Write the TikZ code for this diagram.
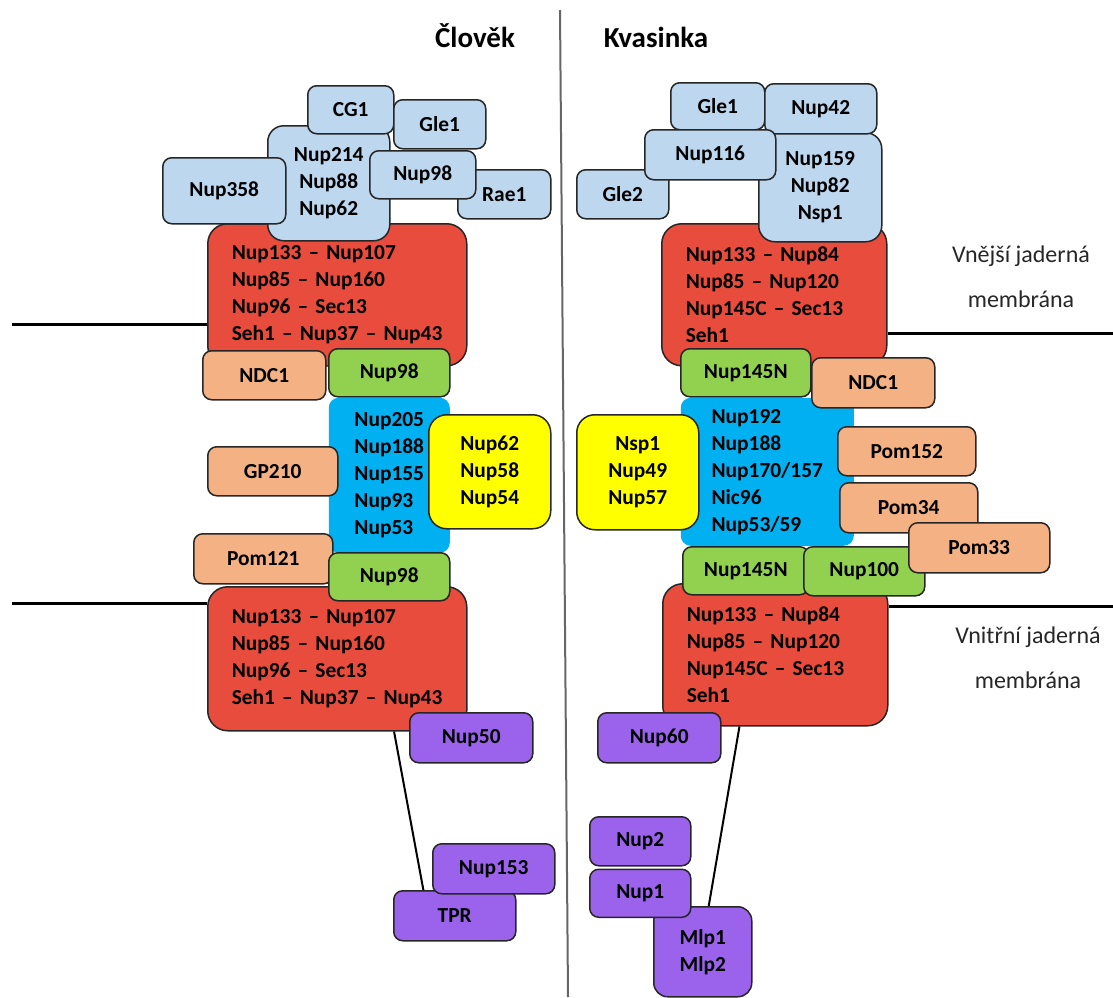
\documentclass[tikz,border=0pt]{standalone}
\usepackage{fontspec}
\setmainfont{Carlito}
\usepackage{tikz}
\usetikzlibrary{positioning, calc}

\definecolor{cytoblue}{HTML}{BDD7EE}
\definecolor{ringred}{HTML}{E74C3C}
\definecolor{linkgreen}{HTML}{92D050}
\definecolor{pomorange}{HTML}{F4B183}
\definecolor{chanblue}{HTML}{00B0F0}
\definecolor{fgyellow}{HTML}{FFFF00}
\definecolor{basketpurple}{HTML}{9B63EB}
\newcommand{\nupfont}{\bfseries\fontsize{10.7}{13.5}\selectfont}

\begin{document}
\begin{tikzpicture}[
        x=0.5pt, y=-0.5pt,
        nup/.style={rectangle, rounded corners=4.5pt, draw=black!85, line width=0.75pt, inner sep=0pt, align=center, anchor=north west, font=\nupfont},
        cyto/.style={nup, fill=cytoblue},
        ring/.style={nup, fill=ringred, rounded corners=10pt, align=left, inner xsep=12pt},
        link/.style={nup, fill=linkgreen},
        pom/.style={nup, fill=pomorange},
        chan/.style={nup, draw=none, fill=chanblue, align=left, rounded corners=5pt},
        fg/.style={nup, fill=fgyellow, rounded corners=9pt},
        basket/.style={nup, fill=basketpurple},
        headline/.style={font=\bfseries\fontsize{14.5}{17}\selectfont, anchor=base},
        memlabel/.style={font=\fontsize{12}{22.5}\selectfont, align=center, anchor=north, text=black!85},
        membrane/.style={line width=1.5pt},
        tether/.style={line width=1pt},
        divider/.style={line width=1pt, draw=black!60}
    ]
        \useasboundingbox (0,0) rectangle (1113,997);

        \coordinate (divTop) at (560,10);
        \coordinate (divBot) at (568,997);
        \draw[divider] (divTop) -- (divBot);

        \node[headline] (hTitle) at (475,47) {Člověk};
        \node[headline] (yTitle) at (656,47) {Kvasinka};

        \coordinate (hMemA) at (12,324);
        \coordinate (hMemB) at (12,603);
        \coordinate (yMemA) at (1113,333);
        \coordinate (yMemB) at (1113,606);

        \node[ring, text width=105.5pt, minimum height=71pt] (hRingA) at (207,223) {Nup133 -- Nup107\\Nup85 -- Nup160\\Nup96 -- Sec13\\Seh1 -- Nup37 -- Nup43};
        \node[cyto, minimum width=61pt, minimum height=57.5pt, rounded corners=8pt] (hNup214) at (267,125) {Nup214\\Nup88\\Nup62};
        \node[cyto, minimum width=43pt, minimum height=24pt] (hCg1) at (307,85) {CG1};
        \node[cyto, minimum width=46pt, minimum height=24.5pt] (hGle1) at (393,99) {Gle1};
        \node[cyto, minimum width=61.5pt, minimum height=33pt] (hNup358) at (162,157) {Nup358};
        \node[cyto, minimum width=46.5pt, minimum height=24.5pt] (hRae1) at (457,169) {Rae1};
        \node[cyto, minimum width=53pt, minimum height=24pt] (hNup98) at (369,150) {Nup98};

        \node[chan, minimum width=60.5pt, minimum height=77.5pt] (hChan) at (328,397) {Nup205\\Nup188\\Nup155\\Nup93\\Nup53};
        \node[link, minimum width=60.5pt, minimum height=24pt] (hLinkA) at (328,348) {Nup98};
        \node[pom, minimum width=61.5pt, minimum height=24.5pt] (hNdc1) at (202,350) {NDC1};
        \node[fg, minimum width=61pt, minimum height=57pt] (hFg) at (428,414) {Nup62\\Nup58\\Nup54};
        \node[pom, minimum width=65pt, minimum height=24.5pt] (hGp210) at (207,446) {GP210};
        \node[pom, minimum width=69.5pt, minimum height=25pt] (hPom121) at (193,533) {Pom121};
        \node[ring, text width=105.5pt, minimum height=72pt] (hRingB) at (207,586) {Nup133 -- Nup107\\Nup85 -- Nup160\\Nup96 -- Sec13\\Seh1 -- Nup37 -- Nup43};
        \node[link, minimum width=60.5pt, minimum height=24pt] (hLinkB) at (328,552) {Nup98};

        \node[basket, minimum width=61.5pt, minimum height=25pt] (hNup50) at (409,712) {Nup50};
        \node[basket, minimum width=61pt, minimum height=25pt] (hTpr) at (393,890) {TPR};
        \node[basket, minimum width=61pt, minimum height=25pt] (hNup153) at (432,843) {Nup153};

        \node[ring, text width=88.5pt, minimum height=71pt] (yRingA) at (661,223) {Nup133 -- Nup84\\Nup85 -- Nup120\\Nup145C -- Sec13\\Seh1};
        \node[cyto, minimum width=61.5pt, minimum height=54.5pt, rounded corners=8pt] (yNup159) at (758,132) {Nup159\\Nup82\\Nsp1};
        \node[cyto, minimum width=47pt, minimum height=23.5pt] (yGle1) at (670,82) {Gle1};
        \node[cyto, minimum width=56pt, minimum height=25pt] (yNup42) at (764,83) {Nup42};
        \node[cyto, minimum width=46pt, minimum height=24.5pt] (yGle2) at (576,169) {Gle2};
        \node[cyto, minimum width=65.5pt, minimum height=25pt] (yNup116) at (644,129) {Nup116};

        \node[chan, minimum width=86.5pt, minimum height=74pt] (yChan) at (680,397) {Nup192\\Nup188\\Nup170/157\\Nic96\\Nup53/59};
        \node[link, minimum width=65pt, minimum height=24pt] (yLinkA) at (680,348) {Nup145N};
        \node[pom, minimum width=61.5pt, minimum height=25pt] (yNdc1) at (811,357) {NDC1};
        \node[fg, minimum width=61pt, minimum height=57.5pt] (yFg) at (576,414) {Nsp1\\Nup49\\Nup57};
        \node[pom, minimum width=69pt, minimum height=24.5pt] (yPom152) at (837,426) {Pom152};
        \node[pom, minimum width=69pt, minimum height=25pt] (yPom34) at (839,482) {Pom34};
        \node[ring, text width=88.5pt, minimum height=71pt] (yRingB) at (662,583) {Nup133 -- Nup84\\Nup85 -- Nup120\\Nup145C -- Sec13\\Seh1};
        \node[link, minimum width=63pt, minimum height=24pt] (yLinkB) at (682,546) {Nup145N};
        \node[link, minimum width=60.5pt, minimum height=24.5pt] (yNup100) at (803,546) {Nup100};
        \node[pom, minimum width=70.5pt, minimum height=25pt] (yPom33) at (908,522) {Pom33};

        \node[basket, minimum width=61.5pt, minimum height=25pt] (yNup60) at (597,712) {Nup60};
        \node[basket, minimum width=49pt, minimum height=45pt, rounded corners=7pt] (yMlp) at (653,906) {Mlp1\\Mlp2};
        \node[basket, minimum width=50.5pt, minimum height=24.5pt] (yNup2) at (589,816) {Nup2};
        \node[basket, minimum width=50.5pt, minimum height=24pt, below=1pt of yNup2] (yNup1) {Nup1};

        \draw[membrane] (hMemA) -- (hMemA -| hRingA.west);
        \draw[membrane] (hMemB) -- (hMemB -| hRingB.west);
        \draw[membrane] (yRingA.east |- yMemA) -- (yMemA);
        \draw[membrane] (yRingB.east |- yMemB) -- (yMemB);
        \draw[tether] ($(hRingB.south west)!0.718!(hRingB.south east)$) -- ($(hTpr.north west)!0.246!(hTpr.north east)$);
        \draw[tether] ($(yRingB.south west)!0.342!(yRingB.south east)$) -- ($(yMlp.north west)!0.56!(yMlp.north east)$);

        \node[memlabel] (yOuterLbl) at (1021,239) {Vnější jaderná\\membrána};
        \node[memlabel] (yInnerLbl) at (1028,620) {Vnitřní jaderná\\membrána};
    \end{tikzpicture}
\end{document}
